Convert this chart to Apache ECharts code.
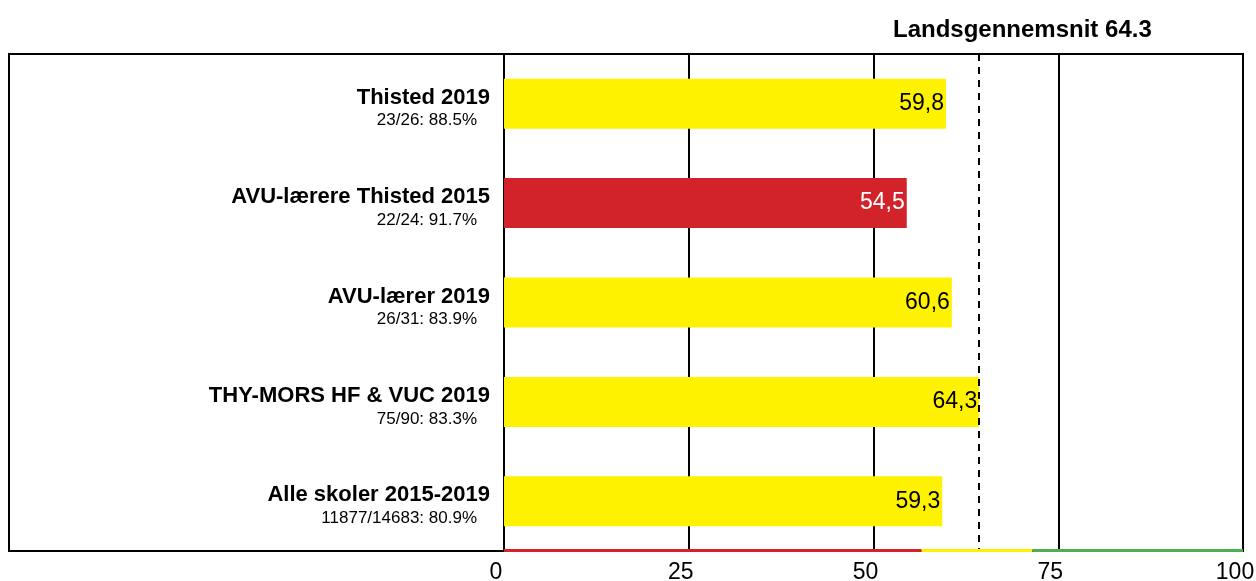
<!DOCTYPE html>
<html>
<head>
<meta charset="utf-8">
<script src="https://cdn.jsdelivr.net/npm/echarts@6/dist/echarts.min.js"></script>
<style>
  html, body { margin: 0; padding: 0; background: #fff; }
  #chart { width: 1256px; height: 581px; }
</style>
</head>
<body>
<div id="chart"></div>
<script>
// data
const categories = ['Thisted 2019', 'AVU-lærere Thisted 2015', 'AVU-lærer 2019', 'THY-MORS HF & VUC 2019', 'Alle skoler 2015-2019'];
const responses = ['23/26: 88.5%', '22/24: 91.7%', '26/31: 83.9%', '75/90: 83.3%', '11877/14683: 80.9%'];
const values = [59.8, 54.5, 60.6, 64.3, 59.3];
const average = 64.3;
// farvebånd nederst: grænser for rød / gul / grøn
const bandLimits = [0, 56.5, 71.5, 100];
const bandColors = ['#D2232A', '#FFF200', '#4CAF50'];

const FONT = '"Liberation Sans", Arial, sans-serif';

function bandColor(v) {
  for (let i = 0; i < bandColors.length; i++) {
    if (v < bandLimits[i + 1]) return bandColors[i];
  }
  return bandColors[bandColors.length - 1];
}

let chartDom = document.getElementById('chart');
let chart = echarts.init(chartDom);

let barData = values.map(function (v) {
  let c = bandColor(v);
  return {
    value: v,
    itemStyle: { color: c },
    label: { color: c === bandColors[0] ? '#fff' : '#000' }
  };
});

let stripData = [];
for (let i = 0; i < bandColors.length; i++) {
  stripData.push([bandLimits[i], bandLimits[i + 1], categories.length - 1, i]);
}

let option = {
  animation: false,
  textStyle: { fontFamily: FONT },
  title: {
    text: 'Landsgennemsnit ' + average,
    left: 888,
    top: 13,
    textStyle: { fontFamily: FONT, fontSize: 24, fontWeight: 'bold', color: '#000' }
  },
  grid: {
    left: 504,
    right: 13,
    top: 54,
    bottom: 30,
    outerBoundsMode: 'none'
  },
  graphic: [{
    type: 'rect',
    z: 0,
    shape: { x: 9, y: 54, width: 1234, height: 497 },
    style: { fill: 'none', stroke: '#000', lineWidth: 2 }
  }],
  xAxis: {
    type: 'value',
    min: 0,
    max: 100,
    interval: 25,
    axisLine: { show: false },
    axisTick: { show: false },
    splitLine: { show: true, lineStyle: { color: '#000', width: 2 } },
    axisLabel: { fontFamily: FONT, fontSize: 23, color: '#000', margin: 10, padding: [0, 16, 0, 0] }
  },
  yAxis: {
    type: 'category',
    inverse: true,
    data: categories,
    axisLine: { show: true, lineStyle: { color: '#000', width: 2 } },
    axisTick: { show: false },
    axisLabel: {
      margin: 14,
      padding: [12, 0, 0, 0],
      formatter: function (val, idx) {
        return '{a|' + val + '}\n{b|' + responses[idx] + '}';
      },
      rich: {
        a: { fontFamily: FONT, fontSize: 22, fontWeight: 'bold', color: '#000', lineHeight: 22 },
        b: { fontFamily: FONT, fontSize: 17, color: '#000', lineHeight: 24, padding: [0, 13, 0, 0] }
      }
    }
  },
  series: [{
    type: 'bar',
    data: barData,
    barWidth: 50,
    z: 2,
    label: {
      show: true,
      position: 'insideRight',
      distance: 2,
      fontFamily: FONT,
      fontSize: 23,
      formatter: function (p) {
        return p.value.toFixed(1).replace('.', ',');
      }
    },
    markLine: {
      silent: true,
      symbol: 'none',
      z: 5,
      label: { show: false },
      lineStyle: { color: '#000', width: 2, type: [7, 6] },
      data: [{ xAxis: average }]
    }
  }, {
    type: 'custom',
    z: 10,
    clip: false,
    encode: { x: [0, 1], y: 2 },
    data: stripData,
    renderItem: function (params, api) {
      let x0 = api.coord([api.value(0), 0])[0];
      let x1 = api.coord([api.value(1), 0])[0];
      let yb = params.coordSys.y + params.coordSys.height;
      return {
        type: 'rect',
        shape: { x: x0, y: yb - 2, width: x1 - x0, height: 3 },
        style: { fill: bandColors[api.value(3)] }
      };
    }
  }]
};
chart.setOption(option);
</script>
</body>
</html>
